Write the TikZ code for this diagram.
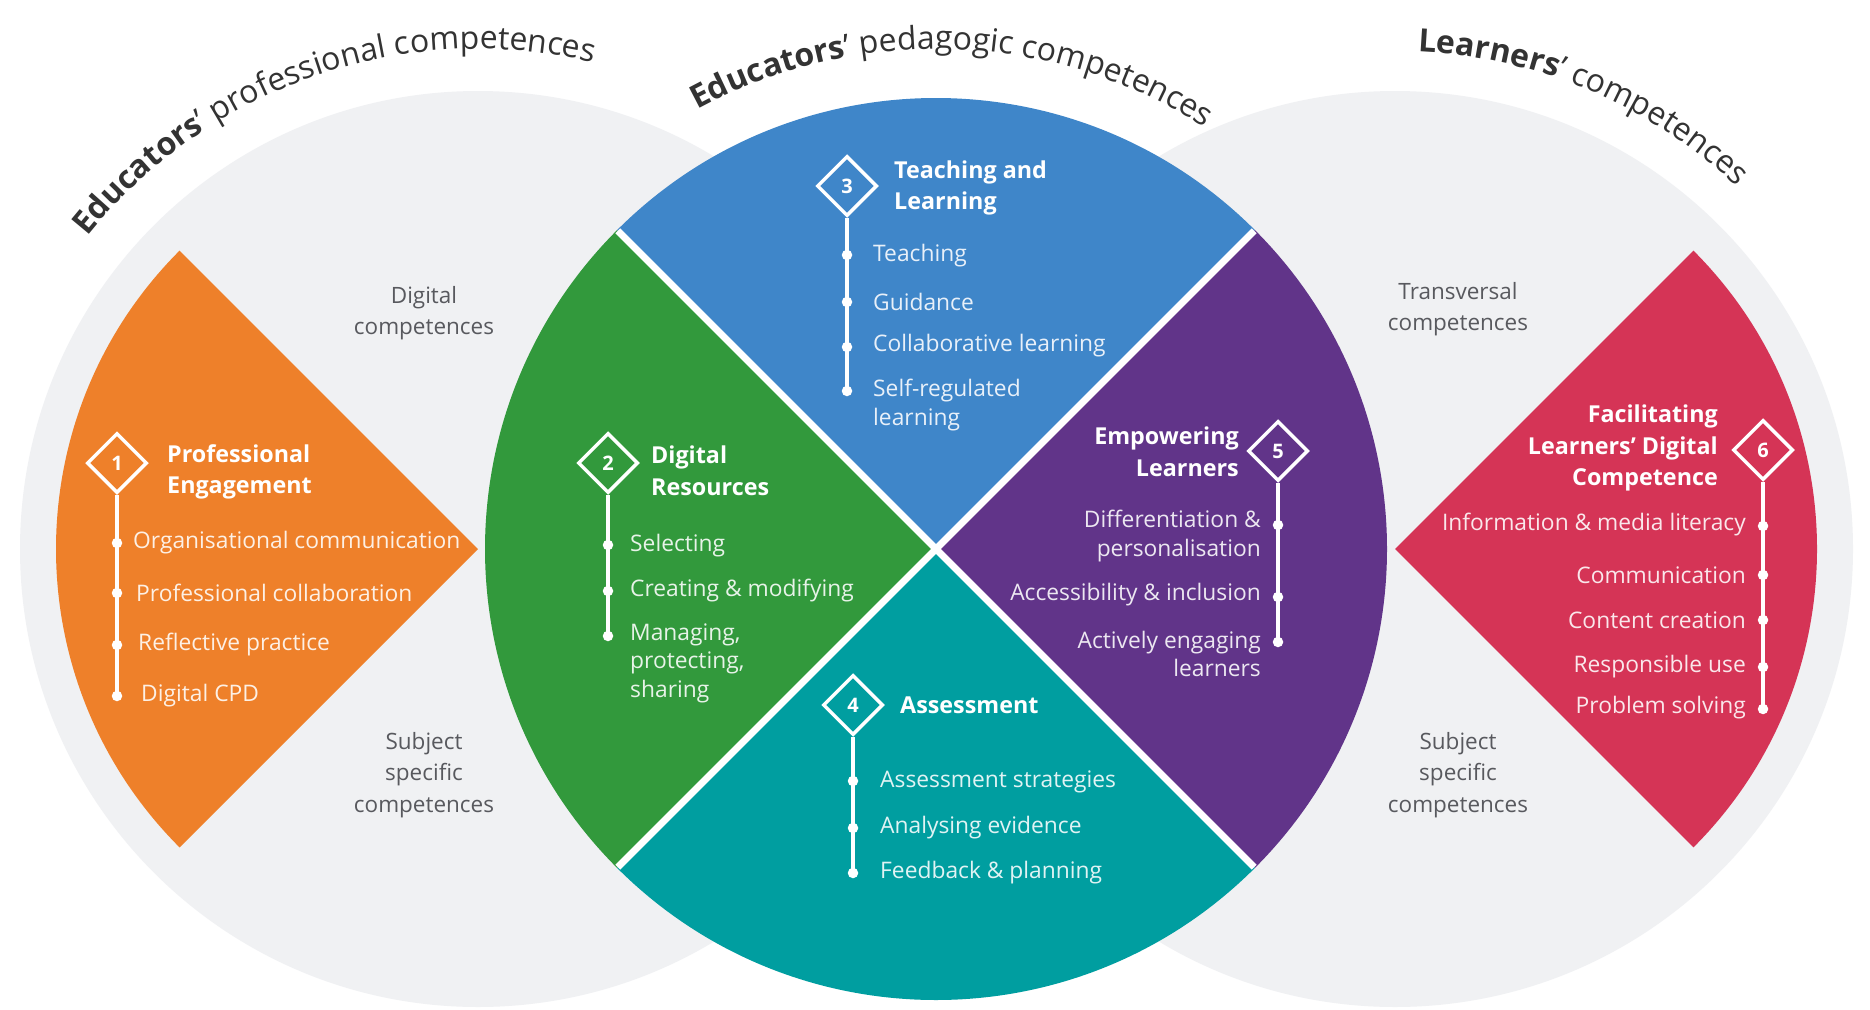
\documentclass[tikz,border=0pt]{standalone}
\usepackage{fontspec}
\setmainfont{Open Sans}
\usetikzlibrary{shapes.geometric,decorations.text}
\definecolor{cOrange}{HTML}{EE802A}
\definecolor{cGreen}{HTML}{32993C}
\definecolor{cBlue}{HTML}{3F86C9}
\definecolor{cTeal}{HTML}{009EA0}
\definecolor{cPurple}{HTML}{613489}
\definecolor{cRed}{HTML}{D53456}
\definecolor{cBg}{HTML}{F0F1F3}
\definecolor{cLabel}{HTML}{58595E}
\definecolor{cTitle}{HTML}{333333}
\tikzset{
  num/.style={diamond, draw=white, line width=3.5pt, minimum size=60pt, inner sep=0pt, text=white, font=\fontsize{20}{20}\selectfont\bfseries},
  dot/.style={circle, fill=white, minimum size=10.5pt, inner sep=0pt},
  stem/.style={draw=white, line width=3.2pt},
  head/.style={text=white, font=\fontsize{23.3}{31.5}\selectfont\bfseries, inner sep=0pt},
  item/.style={font=\fontsize{22.8}{28.5}\selectfont, inner sep=0pt, text=white!88!#1},
  glabel/.style={text=cLabel, font=\fontsize{22.5}{31.5}\selectfont, align=center, inner sep=0pt},
  gap/.style={draw=white, line width=7pt},
}
\begin{document}
\begin{tikzpicture}[x=1pt,y=-1pt]
\useasboundingbox (0,0) rectangle (1870,1009);
\fill[white] (0,0) rectangle (1870,1009);
\coordinate (L) at (478,549);
\coordinate (C) at (936,549);
\coordinate (R) at (1395,549);
% background circles
\fill[cBg] (L) circle[radius=458];
\fill[cBg] (R) circle[radius=458];
% side wedges
\fill[cOrange] (L) -- ++(135:422) arc[start angle=135,end angle=225,radius=422] -- cycle;
\fill[cRed] (R) -- ++(-45:422) arc[start angle=-45,end angle=45,radius=422] -- cycle;
% central circle
\fill[cGreen] (C) -- ++(135:451) arc[start angle=135,end angle=225,radius=451] -- cycle;
\fill[cBlue] (C) -- ++(225:451) arc[start angle=225,end angle=315,radius=451] -- cycle;
\fill[cPurple] (C) -- ++(-45:451) arc[start angle=-45,end angle=45,radius=451] -- cycle;
\fill[cTeal] (C) -- ++(45:451) arc[start angle=45,end angle=135,radius=451] -- cycle;
\draw[gap] (C) ++(45:450) -- ++(225:900);
\draw[gap] (C) ++(135:450) -- ++(315:900);

% titles
\path[decorate, decoration={text along path, text align=center, text color=cTitle,
  text={|\fontsize{32}{36}\selectfont\bfseries|Educators|\fontsize{32}{36}\selectfont\mdseries|’ professional competences}}]
  (L) ++(190:500) arc[start angle=190,end angle=312,radius=500];
\path[decorate, decoration={text along path, text align=center, text color=cTitle,
  text={|\fontsize{32}{36}\selectfont\bfseries|Educators|\fontsize{32}{36}\selectfont\mdseries|’ pedagogic competences}}]
  (C) ++(210:500) arc[start angle=210,end angle=334,radius=500];
\path[decorate, decoration={text along path, text align=center, text color=cTitle,
  text={|\fontsize{32}{36}\selectfont\bfseries|Learners|\fontsize{32}{36}\selectfont\mdseries|’ competences}}]
  (R) ++(240:498) arc[start angle=240,end angle=346,radius=498];

% grey labels
\node[glabel] (g1) at (424,313) {Digital\\competences};
\node[glabel] (g2) at (424,775) {Subject\\specific\\competences};
\node[glabel] (g3) at (1458,309) {Transversal\\competences};
\node[glabel] (g4) at (1458,775) {Subject\\specific\\competences};

% 1 Professional Engagement
\node[num] (d1) at (117,463) {1};
\node[head, anchor=west, align=left] (h1) at (167,472) {Professional\\Engagement};
\node[dot] (o1) at (117,543) {};
\node[dot] (o2) at (117,593) {};
\node[dot] (o3) at (117,645) {};
\node[dot] (o4) at (117,696) {};
\node[item=cOrange, anchor=west] (to1) at (133,543) {Organisational communication};
\node[item=cOrange, anchor=west] (to2) at (136,593) {Professional collaboration};
\node[item=cOrange, anchor=west] (to3) at (138,645) {Reflective practice};
\node[item=cOrange, anchor=west] (to4) at (141,696) {Digital CPD};
\draw[stem] (d1.south) -- (o4.center);

% 2 Digital Resources
\node[num] (d2) at (608,463) {2};
\node[head, anchor=west, align=left] (h2) at (651,471) {Digital\\Resources};
\node[dot] (gr1) at (608,545) {};
\node[dot] (gr2) at (608,591) {};
\node[dot] (gr3) at (608,636) {};
\node[item=cGreen, anchor=west] (tg1) at (630,546) {Selecting};
\node[item=cGreen, anchor=west] (tg2) at (630,591) {Creating \& modifying};
\node[item=cGreen, anchor=west, align=left] (tg3) at (630,663) {Managing,\\protecting,\\sharing};
\draw[stem] (d2.south) -- (gr3.center);

% 3 Teaching and Learning
\node[num] (d3) at (847,186) {3};
\node[head, anchor=west, align=left] (h3) at (894,188) {Teaching and\\Learning};
\node[dot] (b1) at (847,255) {};
\node[dot] (b2) at (847,302) {};
\node[dot] (b3) at (847,347) {};
\node[dot] (b4) at (847,391) {};
\node[item=cBlue, anchor=west] (tb1) at (873,256) {Teaching};
\node[item=cBlue, anchor=west] (tb2) at (873,302) {Guidance};
\node[item=cBlue, anchor=west] (tb3) at (873,346) {Collaborative learning};
\node[item=cBlue, anchor=west, align=left] (tb4) at (873,405) {Self-regulated\\learning};
\draw[stem] (d3.south) -- (b4.center);

% 4 Assessment
\node[num] (d4) at (853,705) {4};
\node[head, anchor=west] (h4) at (900,705) {Assessment};
\node[dot] (t1) at (853,781) {};
\node[dot] (t2) at (853,828) {};
\node[dot] (t3) at (853,873) {};
\node[item=cTeal, anchor=west] (tt1) at (880,782) {Assessment strategies};
\node[item=cTeal, anchor=west] (tt2) at (880,828) {Analysing evidence};
\node[item=cTeal, anchor=west] (tt3) at (880,873) {Feedback \& planning};
\draw[stem] (d4.south) -- (t3.center);

% 5 Empowering Learners
\node[num] (d5) at (1278,451) {5};
\node[head, anchor=east, align=right] (h5) at (1239,452) {Empowering\\Learners};
\node[dot] (p1) at (1278,525) {};
\node[dot] (p2) at (1278,597) {};
\node[dot] (p3) at (1278,642) {};
\node[item=cPurple, anchor=east, align=right] (tp1) at (1261,536) {Differentiation \&\\personalisation};
\node[item=cPurple, anchor=east] (tp2) at (1261,595) {Accessibility \& inclusion};
\node[item=cPurple, anchor=east, align=right] (tp3) at (1261,654) {Actively engaging\\learners};
\draw[stem] (d5.south) -- (p3.center);

% 6 Facilitating Learners' Digital Competence
\node[num] (d6) at (1763,450) {6};
\node[head, anchor=east, align=right] (h6) at (1718,448) {Facilitating\\Learners’ Digital\\Competence};
\node[dot] (r1) at (1763,526) {};
\node[dot] (r2) at (1763,575) {};
\node[dot] (r3) at (1763,620) {};
\node[dot] (r4) at (1763,667) {};
\node[dot] (r5) at (1763,709) {};
\node[item=cRed, anchor=east] (tr1) at (1746,525) {Information \& media literacy};
\node[item=cRed, anchor=east] (tr2) at (1746,575) {Communication};
\node[item=cRed, anchor=east] (tr3) at (1746,620) {Content creation};
\node[item=cRed, anchor=east] (tr4) at (1746,667) {Responsible use};
\node[item=cRed, anchor=east] (tr5) at (1746,708) {Problem solving};
\draw[stem] (d6.south) -- (r5.center);
\end{tikzpicture}
\end{document}
